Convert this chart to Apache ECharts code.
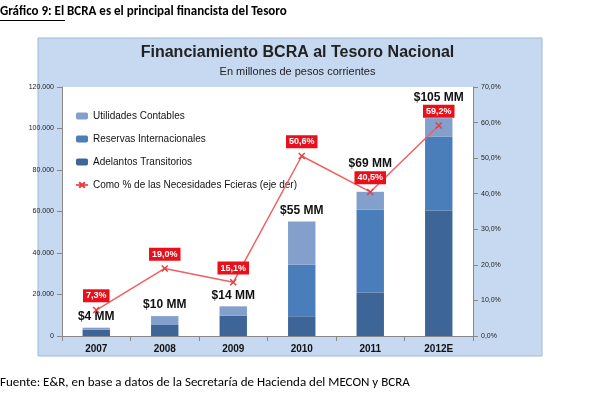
<!DOCTYPE html><html><head><meta charset="utf-8"><script src="https://cdn.jsdelivr.net/npm/echarts@6/dist/echarts.min.js"></script>
<style>body{margin:0;background:#fff}#c{width:595px;height:400px}</style></head><body><div id="c"></div><script>
var years=['2007','2008','2009','2010','2011','2012E'];
var adelantos=[3000,5300,9800,9500,21000,60500];
var reservas=[0,0,0,25000,40000,35500];
var utilidades=[1000,4300,4500,20700,8500,9000];
var totals=['$4 MM','$10 MM','$14 MM','$55 MM','$69 MM','$105 MM'];
var pct=[7.3,19.0,15.1,50.6,40.5,59.2];
var ch=echarts.init(document.getElementById('c'));
var F='Liberation Sans, Arial, sans-serif';
var utilData=utilidades.map(function(v,i){
  return i>=4?{value:v,label:{distance:i===4?22:14}}:v;});
ch.setOption({
animation:false,
graphic:[
{type:'rect',shape:{x:38,y:38,width:504,height:318},style:{fill:'#c6d9f0',stroke:'#a0b8d8'},z:-10},
{type:'rect',shape:{x:62,y:87,width:411,height:249},style:{fill:'#fff'},z:-9},
{type:'text',left:0,top:5,style:{text:'Gráfico 9: El BCRA es el principal financista del Tesoro',font:'bold 13px Carlito, Calibri, Liberation Sans, sans-serif',fill:'#000'}},
{type:'rect',shape:{x:0,y:20,width:65,height:1},style:{fill:'#000'}},
{type:'text',left:'center',top:45,style:{text:'Financiamiento BCRA al Tesoro Nacional',font:'bold 16px '+F,fill:'#222'}},
{type:'text',left:'center',top:66,style:{text:'En millones de pesos corrientes',font:'11px '+F,fill:'#222'}},
{type:'text',left:0,top:376,style:{text:'Fuente: E&R, en base a datos de la Secretaría de Hacienda del MECON y BCRA',font:'13px Carlito, Calibri, Liberation Sans, sans-serif',fill:'#000'}}
],
grid:{left:62,right:122,top:87,bottom:64},
legend:{orient:'vertical',left:70,top:106,itemGap:13,itemWidth:12,itemHeight:7,textStyle:{fontFamily:F,fontSize:10,color:'#111'},
data:['Utilidades Contables','Reservas Internacionales','Adelantos Transitorios','Como % de las Necesidades Fcieras (eje der)']},
xAxis:{type:'category',data:years,axisTick:{show:true},axisLine:{lineStyle:{color:'#888'}},axisLabel:{fontFamily:F,fontWeight:'bold',fontSize:10,color:'#111',margin:8}},
yAxis:[{type:'value',min:0,max:120000,interval:20000,splitLine:{show:false},axisLine:{show:true,lineStyle:{color:'#888'}},axisTick:{show:true},
axisLabel:{fontFamily:F,fontSize:7,color:'#222',formatter:function(v){return v===0?'0':(v/1000).toFixed(3);}}},
{type:'value',min:0,max:70,interval:10,splitLine:{show:false},axisLine:{show:true,lineStyle:{color:'#888'}},axisTick:{show:true},
axisLabel:{fontFamily:F,fontSize:7,color:'#222',formatter:function(v){return v.toFixed(1).replace('.',',')+'%';}}}],
series:[
{name:'Adelantos Transitorios',type:'bar',stack:'a',data:adelantos,barWidth:'40%',itemStyle:{color:'#3d6598'}},
{name:'Reservas Internacionales',type:'bar',stack:'a',data:reservas,itemStyle:{color:'#4a7ebb'}},
{name:'Utilidades Contables',type:'bar',stack:'a',data:utilData,itemStyle:{color:'#839fcb'},
label:{show:true,position:'top',fontFamily:F,fontWeight:'bold',fontSize:12,color:'#111',formatter:function(p){return totals[p.dataIndex];}}},
{name:'Como % de las Necesidades Fcieras (eje der)',type:'line',yAxisIndex:1,data:pct,symbol:'path://M0,0L10,10M10,0L0,10',symbolSize:6,z:5,
lineStyle:{color:'#f06060',width:1.5},itemStyle:{color:'#f06060',borderColor:'#e04040',borderWidth:1.5},
label:{show:true,position:'top',distance:4,backgroundColor:'#e8101a',color:'#fff',fontFamily:F,fontSize:9,fontWeight:'bold',padding:[2,3],
formatter:function(p){return p.value.toFixed(1).replace('.',',')+'%';}}}
]});
</script></body></html>
